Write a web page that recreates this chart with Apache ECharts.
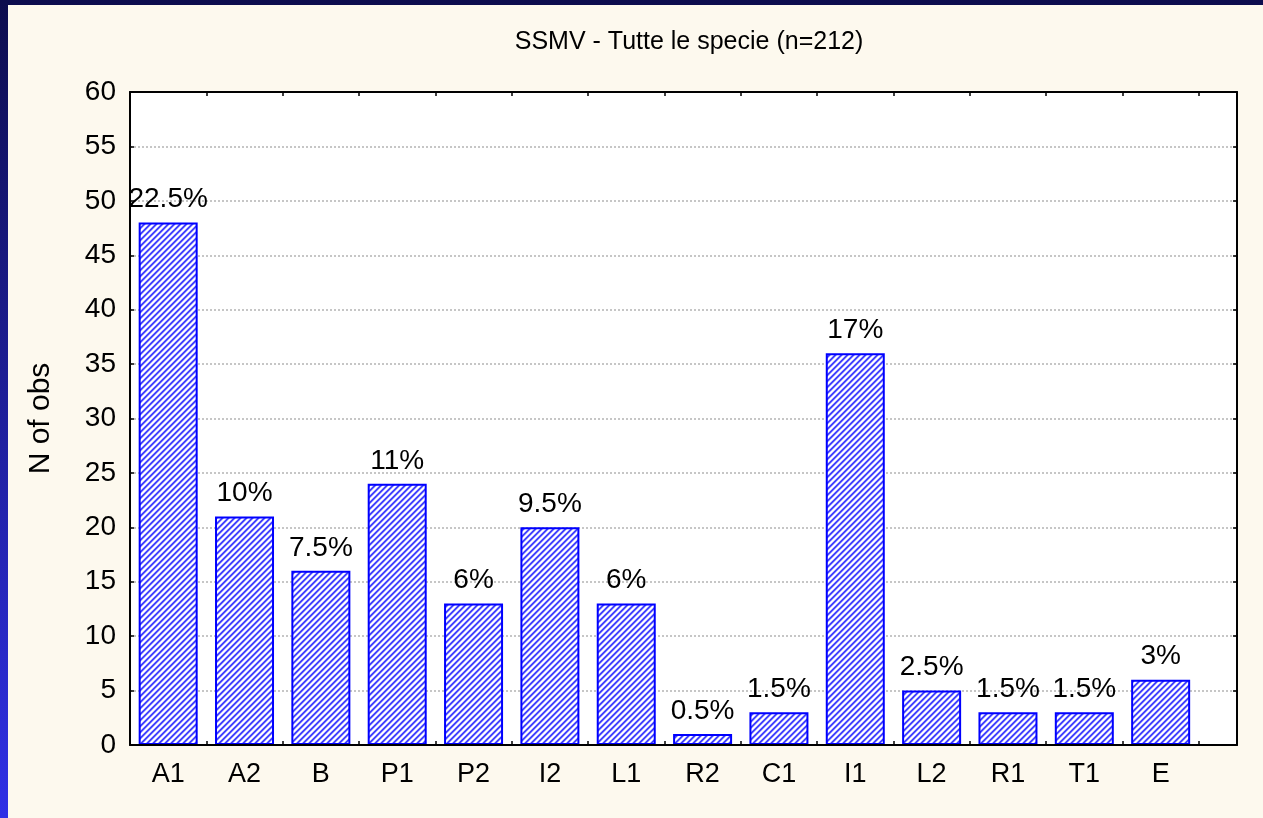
<!DOCTYPE html>
<html>
<head>
<meta charset="utf-8">
<title>SSMV - Tutte le specie</title>
<script src="https://cdn.jsdelivr.net/npm/echarts@6/dist/echarts.min.js"></script>
<style>
  html, body { margin: 0; padding: 0; }
  body {
    width: 1263px; height: 818px; overflow: hidden; position: relative;
    background: linear-gradient(to bottom, #0d0d4e, #3030e6);
  }
  #panel {
    position: absolute; left: 8px; top: 5px; width: 1255px; height: 813px;
    background: #fdf9ee;
  }
  #main { width: 1255px; height: 813px; }
</style>
</head>
<body>
<div id="panel"><div id="main"></div></div>
<script>
// data (n = 212)
var categories = ['A1', 'A2', 'B', 'P1', 'P2', 'I2', 'L1', 'R2', 'C1', 'I1', 'L2', 'R1', 'T1', 'E'];
var counts = [48, 21, 16, 24, 13, 20, 13, 1, 3, 36, 5, 3, 3, 6];
var percentLabels = ['22.5%', '10%', '7.5%', '11%', '6%', '9.5%', '6%', '0.5%', '1.5%', '17%', '2.5%', '1.5%', '1.5%', '3%'];
var yTicks = [0, 60, 5]; // min, max, step

// the axis is split in half-slots: bars sit on odd slots, ticks on even ones,
// with an extra half slot of room after the last bar
var slots = [''];
var slotValues = ['-'];
categories.forEach(function (c, i) {
    slots.push(c, '');
    slotValues.push(counts[i], '-');
});
slots.push('');
slotValues.push('-');

// diagonal hatch fill
function hatch() {
    var n = 6;
    var cv = document.createElement('canvas');
    cv.width = n; cv.height = n;
    var ctx = cv.getContext('2d');
    var img = ctx.createImageData(n, n);
    var cols = [[60, 60, 255], [70, 70, 255], [175, 175, 255], [255, 255, 255], [255, 255, 255], [185, 185, 255]];
    for (var y = 0; y < n; y++) {
        for (var x = 0; x < n; x++) {
            var c = cols[(x + y) % n];
            var k = (y * n + x) * 4;
            img.data[k] = c[0]; img.data[k + 1] = c[1]; img.data[k + 2] = c[2]; img.data[k + 3] = 255;
        }
    }
    ctx.putImageData(img, 0, 0);
    return cv;
}

var font = 'Liberation Sans, Arial, sans-serif';
var tickEven = function (idx) { return idx % 2 === 0 && idx > 0 && idx < slots.length - 1; };
var frame = { show: true, onZero: false, lineStyle: { color: '#000', width: 2 } };
var tick = { show: true, inside: true, length: 4, lineStyle: { color: '#000', width: 1.5 } };

var myChart = echarts.init(document.getElementById('main'), null, { renderer: 'canvas' });
myChart.setOption({
    animation: false,
    title: {
        text: 'SSMV - Tutte le specie (n=212)',
        left: 676,
        top: 20,
        textAlign: 'center',
        textStyle: { fontFamily: font, fontSize: 25, fontWeight: 'normal', color: '#000' }
    },
    grid: {
        left: 122, right: 26, top: 87, bottom: 73,
        show: true, backgroundColor: '#ffffff', borderWidth: 0
    },
    xAxis: [{
        type: 'category',
        data: slots,
        boundaryGap: false,
        position: 'bottom',
        z: 10,
        axisLine: frame,
        axisTick: Object.assign({ interval: tickEven }, tick),
        axisLabel: {
            interval: function (idx) { return idx % 2 === 1; },
            margin: 16,
            fontFamily: font, fontSize: 27, color: '#000'
        },
        splitLine: { show: false }
    }, {
        type: 'category',
        data: slots,
        boundaryGap: false,
        position: 'top',
        z: 10,
        axisLine: frame,
        axisTick: Object.assign({ interval: tickEven }, tick),
        axisLabel: { show: false },
        splitLine: { show: false }
    }],
    yAxis: [{
        type: 'value',
        min: yTicks[0], max: yTicks[1], interval: yTicks[2],
        name: 'N of obs',
        nameLocation: 'middle',
        nameGap: 74,
        nameRotate: 90,
        nameTextStyle: { fontFamily: font, fontSize: 30, color: '#000' },
        axisLine: frame,
        axisTick: tick,
        axisLabel: { margin: 14, fontFamily: font, fontSize: 28, color: '#000' },
        splitLine: { show: true, lineStyle: { color: '#b4b4b4', width: 1.5, type: [2, 2] } }
    }, {
        type: 'value',
        position: 'right',
        min: yTicks[0], max: yTicks[1], interval: yTicks[2],
        axisLine: frame,
        axisTick: tick,
        axisLabel: { show: false },
        splitLine: { show: false }
    }],
    series: [{
        type: 'bar',
        data: slotValues,
        barWidth: 59,
        itemStyle: {
            color: { image: hatch(), repeat: 'repeat' },
            borderColor: '#0000ff',
            borderWidth: 2
        },
        label: {
            show: true,
            position: 'top',
            distance: 9,
            fontFamily: font, fontSize: 28, color: '#000',
            formatter: function (p) { return percentLabels[(p.dataIndex - 1) / 2]; }
        }
    }]
});
</script>
</body>
</html>
